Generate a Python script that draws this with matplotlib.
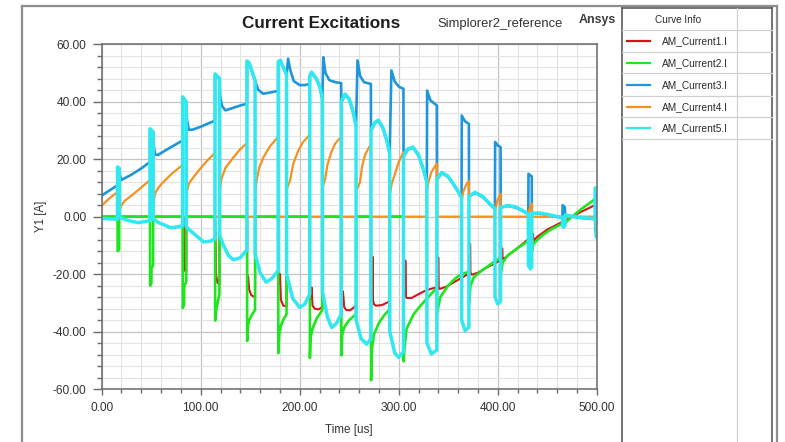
import matplotlib
matplotlib.use('Agg')
import matplotlib.pyplot as plt
from matplotlib.lines import Line2D
from matplotlib.ticker import MultipleLocator, FormatStrFormatter

# values, (time us, current A)
red_pts = [
    (0, 0), (82.9, 0),
    (83.0, -13.0), (83.1, -18.7), (85.4, -19.0), (85.5, 0),
    (114.5, 0), (114.6, -2.0), (115.2, -12.5), (115.3, -20.0), (117, -23.0), (118.9, -23.5), (119.0, 0),
    (146.8, 0), (146.9, -20.0), (148, -21.1), (149, -25.5), (151, -27.3), (154.9, -28.1), (155.0, 0),
    (178.3, 0), (178.4, -23.0), (180.0, -23.5), (180.1, -20.0), (181, -29.0), (183.5, -31.0), (186.7, -31.2), (186.8, 0),
    (210.2, 0), (210.3, -28.0), (211.8, -28.5), (211.9, -24.6), (213, -31.0), (215, -32.0), (219, -32.3), (222.9, -31.5), (223.0, 0),
    (242.0, 0), (242.1, -29.0), (243.6, -29.5), (243.7, -26.0), (245, -31.5), (247, -32.5), (251, -32.6), (256.9, -31.0), (257.0, 0),
    (272.0, 0), (272.1, -28.0), (273.6, -28.5), (273.7, -14.0), (274.0, -29.0), (275, -30.5), (277, -31.0), (283, -30.8), (290.9, -29.5), (291.0, 0),
    (304.9, 0), (305.0, -27.0), (306.6, -27.5), (306.7, -15.3), (307.0, -27.5), (308, -28.3), (313, -28.3), (320, -27.0), (328.5, -25.5), (338.5, -24.6),
    (339.8, -24.6), (339.9, -14.2), (340.2, -24.5), (341, -25.2), (348, -24.4), (356, -22.8), (363.6, -21.3), (370.9, -19.8),
    (372.0, -19.9), (372.1, -9.5), (372.4, -19.5), (374, -20.2), (380, -19.5), (390, -17.5), (397.3, -16.3), (402.9, -15.0),
    (404.4, -14.6), (404.5, -11.0), (404.8, -14.6), (406, -14.7), (415, -12.3), (424, -9.8), (431, -7.8), (434.4, -7.5),
    (435.6, -7.6), (435.7, -6.0), (436.0, -8.4), (440, -7.0), (450, -4.5), (465.5, -1.8), (468, -1.5),
    (475, 0.0), (485, 1.8), (500, 4.3),
]

green_pts = [
    (0, 0), (16.0, 0),
    (16.1, -12.0), (17.6, -11.5), (17.7, 0),
    (48.8, 0), (48.9, -24.0), (50.2, -23.0), (50.3, -18.0), (51.9, -17.0), (52.0, 0),
    (81.8, 0), (81.9, -31.8), (83.2, -30.5), (83.3, -24.5), (85.4, -22.5), (85.5, 0),
    (114.5, 0), (114.6, -36.2), (115.5, -33.0), (116.5, -31.0), (118.9, -27.0), (119.0, 0),
    (146.8, 0), (146.9, -43.3), (147.8, -38.0), (149, -36.0), (152, -34.0), (154.9, -32.5), (155.0, 0),
    (178.3, 0), (178.4, -47.5), (179.3, -41.0), (181, -38.0), (184, -35.5), (186.7, -34.0), (186.8, 0),
    (210.2, 0), (210.3, -49.2), (211, -42.0), (213, -39.0), (217, -35.5), (222.9, -32.5), (223.0, 0),
    (242.0, 0), (242.1, -48.3), (243, -41.0), (245, -38.5), (250, -36.0), (256.9, -34.0), (257.0, 0),
    (272.0, 0), (272.1, -57.0), (273, -46.0), (275, -41.0), (280, -37.0), (285, -34.5), (290.9, -32.2), (291.0, 0),
    (304.9, 0), (305.0, -50.4), (306, -45.0), (308, -39.0), (315, -34.0), (322, -31.0), (328.5, -28.5), (338.5, -24.8),
    (338.6, -33.9), (342, -28.0), (350, -24.0), (357, -21.5), (363.6, -20.0), (370.9, -19.2),
    (371.0, -30.0), (372.5, -24.0), (376, -21.0), (385, -18.5), (397.3, -15.5), (402.9, -14.5),
    (403.0, -20.0), (405, -16.0), (410, -13.5), (420, -11.0), (431, -8.4), (434.4, -7.8),
    (434.5, -12.0), (436, -9.5), (445, -6.5), (455, -4.2), (465.5, -2.4), (468, -2.2),
    (475, 0.0), (485, 2.8), (500, 6.5),
]

blue_pts = [
    (0, 7.3), (5, 8.5), (10, 9.6), (15.9, 10.9),
    (16.0, 17.0), (17.9, 16.5),
    (18.3, 14.5), (20, 12.8), (30, 14.6), (40, 16.8), (48.7, 19.0),
    (48.8, 30.3), (52.0, 29.3),
    (52.6, 24.5), (54, 21.6), (57, 21.5), (65, 23.2), (75, 25.2), (81.7, 26.5),
    (81.8, 41.5), (85.4, 39.8),
    (86.2, 33.5), (88, 30.2), (92, 30.3), (100, 31.3), (108, 32.5), (114.4, 33.4),
    (114.5, 49.5), (118.9, 48.0),
    (119.6, 42.0), (121.5, 38.5), (125, 37.0), (132, 37.8), (140, 38.7), (146.7, 39.3),
    (146.8, 54.0), (149, 53.3), (152, 50.3), (154.9, 47.3),
    (155.3, 47.0), (158, 44.2), (163, 42.8), (170, 43.2), (178.2, 43.8),
    (178.3, 53.8), (180.5, 54.2), (183.5, 51.8), (186.7, 49.3),
    (188.3, 55.0), (190.5, 51.0), (194, 47.2), (200, 45.8), (205, 45.8), (210.1, 46.2),
    (210.2, 48.8), (212, 50.1), (217, 47.8), (220.5, 44.8), (222.9, 41.0),
    (223.8, 55.5), (226, 50.0), (230, 47.5), (236, 46.8), (241.9, 46.5),
    (242.0, 39.8), (245.8, 42.5), (250, 40.8), (254, 36.3), (256.9, 31.5),
    (258.4, 54.4), (261, 49.0), (265, 46.8), (271.9, 46.2),
    (272.0, 30.0), (276, 32.6), (279.4, 33.4), (284, 30.8), (288, 26.3), (290.9, 22.0),
    (292.6, 50.9), (296, 47.0), (300, 45.3), (304.8, 44.5),
    (304.9, 21.0), (309, 23.3), (314.5, 24.0), (320, 21.3), (325, 16.3), (328.4, 12.0),
    (328.7, 43.9), (332, 40.5), (338.5, 38.7),
    (338.6, 13.0), (343.5, 15.2), (350, 13.8), (357, 10.3), (363.5, 6.7),
    (363.7, 35.2), (367, 33.2), (370.9, 32.3),
    (371.0, 7.0), (377, 8.3), (385, 6.8), (392, 4.3), (397.2, 2.7),
    (397.4, 26.0), (400, 24.8), (402.9, 24.2),
    (403.0, 3.2), (410, 3.7), (418, 3.2), (425, 2.0), (430.9, 0.9),
    (431.1, 14.9), (433, 14.4), (434.4, 14.0),
    (434.5, 1.2), (442, 1.1), (450, 0.6), (458, 0.0), (465.4, -0.3),
    (465.6, 4.0), (467.9, 3.2),
    (468.0, 0.5), (475, 0.0), (485, -0.5), (495, -0.8), (498.4, -0.8),
    (498.6, -5.0), (500, -5.5),
]

orange_pts = [
    (0, 3.8), (5, 5.5), (10, 7.0), (15.9, 8.5),
    (16.0, 0), (18.0, 0),
    (18.1, 2.5), (20, 4.0), (23.5, 5.6), (30, 7.3), (37, 9.3), (48.7, 12.7),
    (48.8, 0), (52.1, 0),
    (52.2, 4.5), (53.8, 8.0), (57, 10.0), (61, 11.6), (70.6, 14.9), (81.7, 18.0),
    (81.8, 0), (85.5, 0),
    (85.6, 8.0), (88, 11.5), (92.6, 13.7), (99.3, 16.6), (106, 19.3), (114.4, 22.2),
    (114.5, 0), (119.0, 0),
    (119.1, 9.0), (121, 13.2), (125, 17.0), (133, 20.6), (140, 23.5), (146.7, 25.6),
    (146.8, 0), (155.0, 0),
    (155.1, 9.0), (156.6, 12.6), (159, 17.0), (163.3, 20.6), (170, 24.5), (178.2, 27.8),
    (178.3, 0), (186.8, 0),
    (186.9, 9.5), (190.2, 12.5), (193.5, 18.4), (198.6, 23.0), (203, 25.8), (210.1, 28.5),
    (210.2, 0), (223.0, 0),
    (223.1, 10.0), (225.6, 13.0), (228, 18.0), (232, 22.5), (236, 25.5), (241.9, 27.8),
    (242.0, 0), (257.0, 0),
    (257.1, 9.0), (260.9, 12.0), (263, 17.5), (266, 21.5), (271.9, 25.3),
    (272.0, 0), (291.0, 0),
    (291.1, 8.0), (293, 11.5), (296.3, 15.0), (300, 19.0), (304.8, 22.5),
    (304.9, 0), (328.5, 0),
    (328.6, 9.0), (330, 12.0), (333, 15.5), (338.5, 18.5),
    (338.6, 0), (363.6, 0),
    (363.7, 5.5), (365, 8.5), (368, 11.0), (370.9, 12.5),
    (371.0, 0), (397.3, 0),
    (397.4, 2.0), (399.5, 5.5), (402.9, 8.0),
    (403.0, 0), (431.0, 0),
    (431.1, 1.5), (433, 3.5), (434.4, 4.5),
    (434.5, 0), (498.5, 0),
    (498.6, -2.0), (499.2, -6.5), (500, -6.5),
]

cyan_pts = [
    (0, -0.6), (8, -0.8), (15.9, -0.9),
    (16.0, 17.3), (17.9, 16.8),
    (18.0, -0.2), (27, -1.4), (37, -2.1), (45, -1.6), (48.7, -1.5),
    (48.8, 30.6), (52.0, 29.5),
    (52.1, -0.8), (58, -2.2), (64, -3.0), (70, -3.9), (76, -3.6), (81.7, -3.2),
    (81.8, 41.7), (85.4, 40.0),
    (85.5, -3.5), (90, -5.0), (95, -6.5), (103, -8.8), (109, -8.6), (114.4, -7.8),
    (114.5, 49.7), (116.5, 49.0), (118.9, 48.3),
    (119.0, -6.5), (123, -10.0), (128, -13.5), (133, -15.0), (140, -14.3), (146.7, -11.5),
    (146.8, 54.2), (149, 53.5), (152, 50.5), (154.9, 47.5),
    (155.0, -13.0), (160, -19.5), (166, -22.8), (172, -21.5), (178.2, -18.8),
    (178.3, 54.0), (180.5, 54.4), (183.5, 52.0), (186.7, 49.5),
    (186.8, -20.0), (193, -28.5), (200, -31.6), (205, -30.5), (210.1, -27.0),
    (210.2, 49.0), (212, 50.3), (217, 48.0), (220.5, 45.0), (222.9, 41.0),
    (223.0, -26.0), (228, -35.0), (232.3, -38.6), (237, -37.2), (241.9, -34.0),
    (242.0, 40.0), (245.8, 42.7), (250, 41.0), (254, 36.5), (256.9, 31.5),
    (257.0, -36.0), (262, -42.5), (267.7, -44.4), (271.9, -42.5),
    (272.0, 30.0), (276, 32.8), (279.4, 33.6), (284, 31.0), (288, 26.5), (290.9, 22.0),
    (291.0, -40.0), (296, -47.5), (300, -49.0), (304.8, -47.0),
    (304.9, 21.0), (309, 23.5), (314.5, 24.2), (320, 21.5), (325, 16.5), (328.4, 12.0),
    (328.5, -44.0), (333, -47.8), (338.5, -46.5),
    (338.6, 13.0), (343.5, 15.4), (350, 14.0), (357, 10.5), (363.5, 6.7),
    (363.6, -36.0), (367, -39.7), (370.9, -38.5),
    (371.0, 7.0), (377, 8.5), (385, 7.0), (392, 4.5), (397.2, 2.7),
    (397.3, -28.0), (400, -30.4), (402.9, -29.5),
    (403.0, 3.2), (410, 3.9), (418, 3.4), (425, 2.2), (430.9, 0.9),
    (431.0, -17.0), (433, -18.2), (434.4, -17.5),
    (434.5, 1.2), (442, 1.3), (450, 0.8), (458, 0.2), (465.4, -0.3),
    (465.5, -3.0), (466.5, -3.7), (467.9, -3.2),
    (468.0, 0.5), (475, 0.2), (485, -0.3), (495, -0.6), (498.4, -0.8),
    (498.5, 10.0), (499.3, 10.0), (499.4, -7.0), (500, -7.2),
]

curve_names = ['AM_Current1.I', 'AM_Current2.I', 'AM_Current3.I', 'AM_Current4.I', 'AM_Current5.I']
curve_colors = ['#d7141e', '#1ee61e', '#1e96dc', '#f5911e', '#32e8f0']
curve_widths = [1.5, 1.9, 1.9, 1.6, 2.5]

plt.rcParams['font.family'] = ['Liberation Sans', 'DejaVu Sans']

W, H = 785, 442
fig = plt.figure(figsize=(W / 100, H / 100), dpi=100)


def fx(px):
    return px / W


def fy(py):
    return 1 - py / H


ax = fig.add_axes([fx(101.7), fy(389), fx(596.7) - fx(101.7), fy(44.3) - fy(389)])

all_pts = [red_pts, green_pts, blue_pts, orange_pts, cyan_pts]
for pts, color, lw in zip(all_pts, curve_colors, curve_widths):
    t, v = zip(*pts)
    ax.plot(t, v, color=color, lw=lw, solid_joinstyle='round')

ax.set_xlim(0, 500)
ax.set_ylim(-60, 60)
ax.xaxis.set_major_locator(MultipleLocator(100))
ax.xaxis.set_minor_locator(MultipleLocator(20))
ax.yaxis.set_major_locator(MultipleLocator(20))
ax.yaxis.set_minor_locator(MultipleLocator(4))
ax.xaxis.set_major_formatter(FormatStrFormatter('%.2f'))
ax.yaxis.set_major_formatter(FormatStrFormatter('%.2f'))

ax.grid(which='minor', color='#e3e3e3', lw=0.8)
ax.grid(which='major', color='#c4c4c4', lw=0.9)
ax.set_axisbelow(True)

for s in ax.spines.values():
    s.set_color('#6a6a6a')
    s.set_linewidth(1.1)

ax.tick_params(axis='y', which='major', length=6.5, width=1, color='#6a6a6a', pad=4.5,
               labelsize=8.6, labelcolor='#333333')
ax.tick_params(axis='y', which='minor', length=3.6, width=1, color='#6a6a6a')
ax.tick_params(axis='x', which='major', length=4.5, width=1, color='#6a6a6a', pad=5,
               labelsize=8.6, labelcolor='#333333')
ax.tick_params(axis='x', which='minor', length=3, width=1, color='#6a6a6a')

fig.text(fx(41), fy(216), 'Y1 [A]', rotation=90, ha='center', va='center', fontsize=8.3, color='#333333')
fig.text(fx(349), fy(430), 'Time [us]', ha='center', va='center', fontsize=8.4, color='#333333')

# header texts
fig.text(fx(321), fy(24), 'Current Excitations', ha='center', va='center', fontsize=12.3,
         fontweight='bold', color='#1e1e1e')
fig.text(fx(500.5), fy(23.5), 'Simplorer2_reference', ha='center', va='center', fontsize=9.4, color='#333333')
fig.text(fx(597.5), fy(19.5), 'Ansys', ha='center', va='center', fontsize=8.9, fontweight='bold', color='#3c3c3c')

# outer frame
frame_kw = dict(transform=fig.transFigure, color='#8e8e8e', lw=1.6)
fig.add_artist(Line2D([fx(22), fx(22)], [fy(6), 0], **frame_kw))
fig.add_artist(Line2D([fx(22), fx(777)], [fy(6), fy(6)], **frame_kw))
fig.add_artist(Line2D([fx(777), fx(777)], [fy(6), 0], **frame_kw))

# curve info panel
panel_kw = dict(transform=fig.transFigure, color='#5a5a5a', lw=1.2)
fig.add_artist(Line2D([fx(621.7), fx(621.7)], [fy(8.3), 0], **panel_kw))
fig.add_artist(Line2D([fx(621.7), fx(771.7)], [fy(8.3), fy(8.3)], **panel_kw))
fig.add_artist(Line2D([fx(771.7), fx(771.7)], [fy(8.3), 0], **panel_kw))
cell_kw = dict(transform=fig.transFigure, color='#d0d0d0', lw=0.9)
fig.add_artist(Line2D([fx(736.7), fx(736.7)], [fy(8.3), 0], **cell_kw))
row_lines = [30, 51.7, 73.3, 96, 117.3, 139.3]
for ry in row_lines:
    fig.add_artist(Line2D([fx(621.7), fx(771.7)], [fy(ry), fy(ry)], **cell_kw))

fig.text(fx(678), fy(20), 'Curve Info', ha='center', va='center', fontsize=7.2, color='#2a2a2a')
for i, (name, color) in enumerate(zip(curve_names, curve_colors)):
    ry = (row_lines[i] + row_lines[i + 1]) / 2
    fig.add_artist(Line2D([fx(627), fx(650)], [fy(ry), fy(ry)], transform=fig.transFigure,
                          color=color, lw=1.6))
    fig.text(fx(661.5), fy(ry + 0.3), name, ha='left', va='center', fontsize=7.3, color='#2a2a2a')

fig.savefig('out.png', dpi=100)
